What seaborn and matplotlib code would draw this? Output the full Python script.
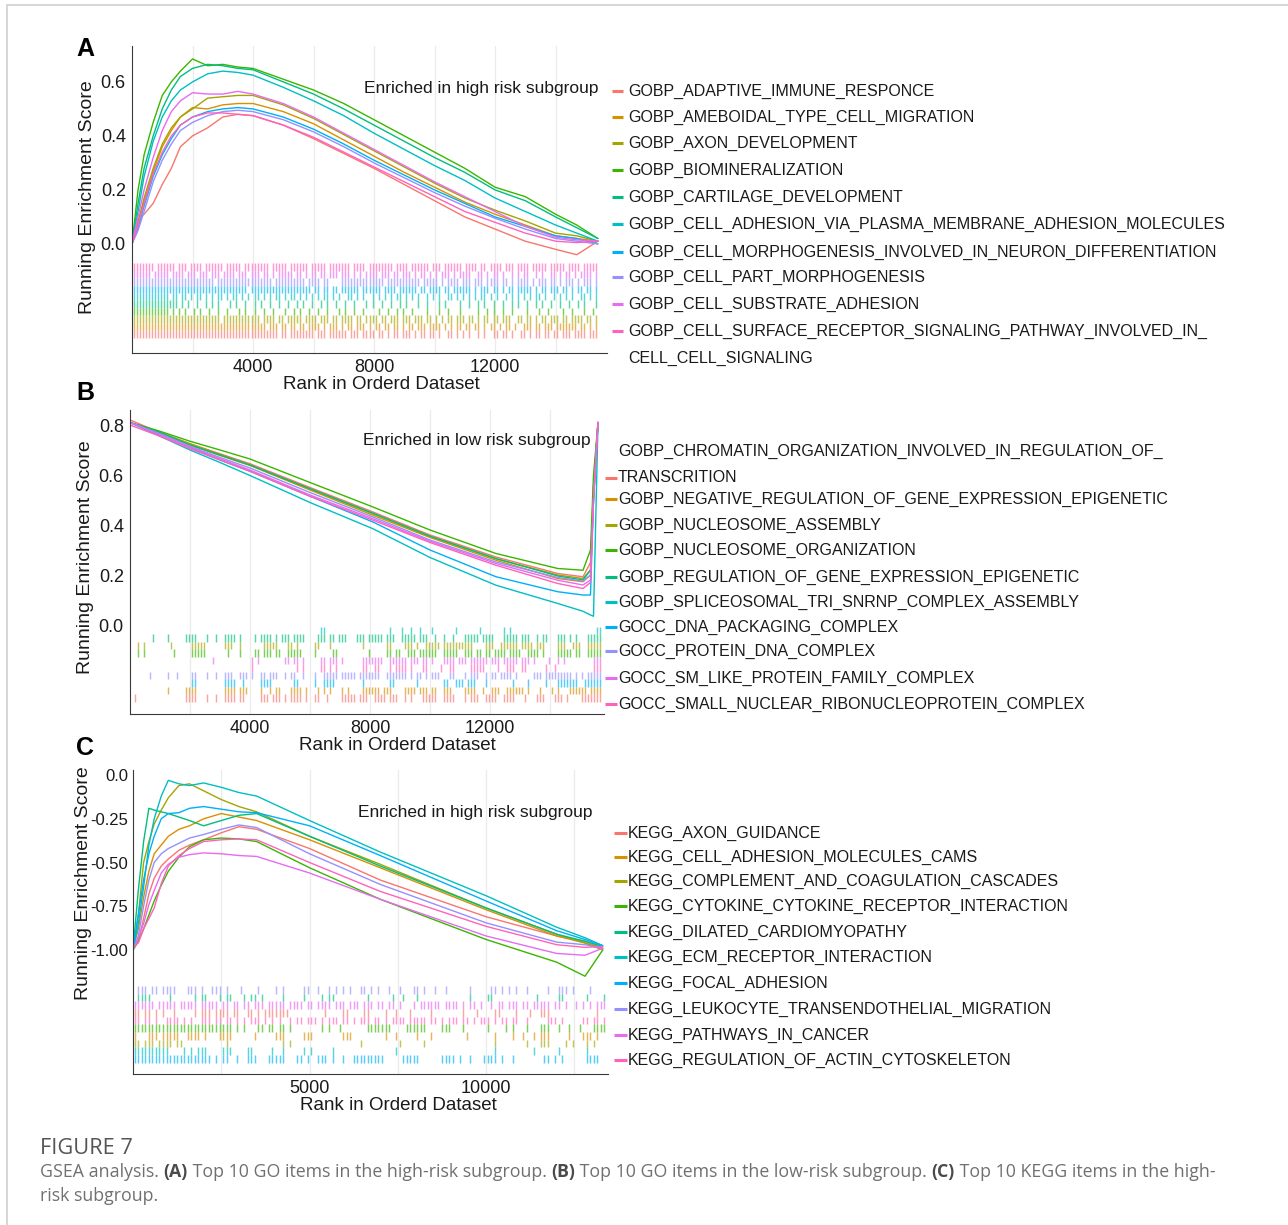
import numpy as np
import pandas as pd
import matplotlib
matplotlib.use("Agg")
import matplotlib.pyplot as plt
from matplotlib.lines import Line2D
from matplotlib.patches import Rectangle
import seaborn as sns

# ---------------- data ----------------
hue_colors = ['#F8766D', '#D89000', '#A3A500', '#39B600', '#00BF7D',
              '#00BFC4', '#00B0F6', '#9590FF', '#E76BF3', '#FF62BC']

a_sets = ["GOBP_ADAPTIVE_IMMUNE_RESPONCE", "GOBP_AMEBOIDAL_TYPE_CELL_MIGRATION",
          "GOBP_AXON_DEVELOPMENT", "GOBP_BIOMINERALIZATION", "GOBP_CARTILAGE_DEVELOPMENT",
          "GOBP_CELL_ADHESION_VIA_PLASMA_MEMBRANE_ADHESION_MOLECULES",
          "GOBP_CELL_MORPHOGENESIS_INVOLVED_IN_NEURON_DIFFERENTIATION",
          "GOBP_CELL_PART_MORPHOGENESIS", "GOBP_CELL_SUBSTRATE_ADHESION",
          "GOBP_CELL_SURFACE_RECEPTOR_SIGNALING_PATHWAY_INVOLVED_IN_\nCELL_CELL_SIGNALING"]
a_rank = [0, 200, 400, 700, 1000, 1300, 1600, 2000, 2500, 3000, 3500, 4000, 5000, 6000,
          7000, 8000, 9000, 10000, 11000, 12000, 13000, 14000, 14700, 15400]
a_es = [
    [0, 0.09, 0.11, 0.15, 0.22, 0.28, 0.36, 0.40, 0.43, 0.47, 0.48, 0.475, 0.44, 0.39, 0.335, 0.28, 0.22, 0.16, 0.10, 0.055, 0.01, -0.02, -0.04, 0.01],
    [0, 0.08, 0.16, 0.27, 0.36, 0.42, 0.47, 0.505, 0.50, 0.515, 0.52, 0.52, 0.49, 0.445, 0.385, 0.325, 0.265, 0.21, 0.155, 0.11, 0.07, 0.03, 0.02, 0.01],
    [0, 0.08, 0.17, 0.28, 0.37, 0.43, 0.47, 0.50, 0.54, 0.545, 0.55, 0.55, 0.515, 0.465, 0.405, 0.345, 0.285, 0.225, 0.17, 0.125, 0.085, 0.04, 0.03, 0.01],
    [0, 0.20, 0.33, 0.45, 0.55, 0.60, 0.64, 0.685, 0.66, 0.665, 0.655, 0.65, 0.61, 0.57, 0.52, 0.46, 0.40, 0.34, 0.28, 0.21, 0.175, 0.11, 0.07, 0.02],
    [0, 0.15, 0.28, 0.40, 0.50, 0.57, 0.62, 0.65, 0.665, 0.66, 0.65, 0.645, 0.60, 0.555, 0.50, 0.44, 0.38, 0.32, 0.265, 0.20, 0.16, 0.10, 0.06, 0.02],
    [0, 0.12, 0.25, 0.38, 0.47, 0.53, 0.57, 0.60, 0.63, 0.64, 0.635, 0.625, 0.58, 0.53, 0.475, 0.41, 0.35, 0.29, 0.235, 0.17, 0.12, 0.07, 0.04, 0.01],
    [0, 0.06, 0.14, 0.25, 0.33, 0.39, 0.44, 0.47, 0.49, 0.50, 0.505, 0.50, 0.47, 0.425, 0.37, 0.31, 0.255, 0.20, 0.15, 0.10, 0.065, 0.03, 0.02, 0.0],
    [0, 0.05, 0.12, 0.23, 0.31, 0.37, 0.42, 0.45, 0.475, 0.49, 0.495, 0.49, 0.46, 0.415, 0.36, 0.30, 0.245, 0.19, 0.14, 0.095, 0.055, 0.02, 0.01, 0.0],
    [0, 0.10, 0.20, 0.32, 0.42, 0.49, 0.53, 0.56, 0.555, 0.555, 0.565, 0.555, 0.52, 0.47, 0.41, 0.35, 0.29, 0.23, 0.175, 0.12, 0.065, 0.025, 0.015, 0.01],
    [0, 0.07, 0.15, 0.26, 0.34, 0.40, 0.44, 0.47, 0.485, 0.485, 0.48, 0.475, 0.44, 0.395, 0.34, 0.285, 0.23, 0.175, 0.12, 0.08, 0.04, 0.01, 0.005, 0.01],
]
# hit strings: one character per 100 ranks, '1' = gene of the set at that rank
a_hits = [
    "1111111111 1111111111 1111111111 1111111111 1111111101 1011111111 0111011111 1011101111 0110101101 1101011011 0100110101 0100101001 1011010011 0101101101 1011101111 0111",
    "1111111111 1111111111 1111111111 1111111111 1111011101 1011011011 1101011101 0110111010 1101101101 0110111011 1101010110 1101101011 0101101001 1101101110 1111111011 0101",
    "1111111111 1111111111 1111111110 1111111111 1101111011 0111110111 1011101101 1110110111 1011011101 1101110110 1010110111 0110101101 1011100110 1101011011 1011011110 1101",
    "1111111111 1101010100 1010010010 0100010100 1001001000 1001010010 0100100010 1001001000 0100100101 0010000100 0100100010 0000100101 0010010000 1000100100 0010010001 0010",
    "1111111111 1111101010 0100101010 0010100100 1010010010 0100101001 0010100100 1001000101 0010010010 1000100100 0101000010 0100101001 0010010100 1001010010 0100100101 0001",
    "1111111111 1101101101 0110101011 0101101010 1101010110 1011010101 0101101010 0110101001 0101010110 1010100101 0100110101 0101011010 1001010101 0101101001 0101010011 0101",
    "1111111111 1111111111 1111111111 1111111101 1111111111 1111111110 1101101101 1111101111 1101111011 1111011011 1101101111 1101011101 1010110111 1101011011 1011010110 1101",
    "1111111111 1111111111 1111111011 1111111111 1111110111 1111111011 1101100001 1111111111 1110111111 1111101111 1010111101 1101110111 1011010111 1010111011 0101110101 1101",
    "1111110111 1101111011 1011101110 1111011101 1101101011 1110110101 1011011101 1101010111 1011101101 1101011010 1011101011 1100110101 1010010101 1001010011 0101101011 1101",
    "1111111011 1111011101 1110111111 0111110111 1111101111 1011111101 1111011111 1101111011 1111110111 1011111101 1101111110 1111011011 1101110111 1011111011 1110111101 1111",
]
a_rug_order = [9, 8, 7, 6, 5, 4, 3, 2, 1, 0]

b_sets = ["GOBP_CHROMATIN_ORGANIZATION_INVOLVED_IN_REGULATION_OF_\nTRANSCRITION",
          "GOBP_NEGATIVE_REGULATION_OF_GENE_EXPRESSION_EPIGENETIC",
          "GOBP_NUCLEOSOME_ASSEMBLY", "GOBP_NUCLEOSOME_ORGANIZATION",
          "GOBP_REGULATION_OF_GENE_EXPRESSION_EPIGENETIC",
          "GOBP_SPLICEOSOMAL_TRI_SNRNP_COMPLEX_ASSEMBLY",
          "GOCC_DNA_PACKAGING_COMPLEX", "GOCC_PROTEIN_DNA_COMPLEX",
          "GOCC_SM_LIKE_PROTEIN_FAMILY_COMPLEX",
          "GOCC_SMALL_NUCLEAR_RIBONUCLEOPROTEIN_COMPLEX"]
b_rank = [0, 1000, 2000, 3000, 4000, 6000, 8100, 10000, 12200, 14260, 15100, 15350, 15450, 15600]
b_es = [
    [0.82, 0.77, 0.725, 0.685, 0.645, 0.55, 0.452, 0.36, 0.272, 0.206, 0.193, 0.25, 0.55, 0.81],
    [0.81, 0.765, 0.72, 0.678, 0.638, 0.54, 0.439, 0.35, 0.259, 0.186, 0.173, 0.20, 0.55, 0.81],
    [0.81, 0.77, 0.725, 0.682, 0.640, 0.545, 0.445, 0.355, 0.265, 0.20, 0.186, 0.22, 0.55, 0.81],
    [0.81, 0.775, 0.735, 0.70, 0.664, 0.57, 0.472, 0.38, 0.286, 0.226, 0.219, 0.30, 0.60, 0.81],
    [0.81, 0.77, 0.72, 0.68, 0.640, 0.545, 0.447, 0.355, 0.266, 0.196, 0.18, 0.22, 0.50, 0.81],
    [0.81, 0.755, 0.70, 0.65, 0.598, 0.49, 0.385, 0.27, 0.159, 0.086, 0.055, 0.04, 0.035, 0.81],
    [0.81, 0.76, 0.71, 0.66, 0.615, 0.515, 0.412, 0.30, 0.193, 0.133, 0.12, 0.12, 0.50, 0.81],
    [0.81, 0.765, 0.715, 0.67, 0.628, 0.53, 0.432, 0.34, 0.252, 0.19, 0.176, 0.20, 0.50, 0.81],
    [0.81, 0.76, 0.712, 0.665, 0.62, 0.52, 0.425, 0.335, 0.246, 0.179, 0.16, 0.18, 0.50, 0.81],
    [0.80, 0.755, 0.705, 0.66, 0.615, 0.515, 0.419, 0.33, 0.239, 0.166, 0.146, 0.17, 0.50, 0.81],
]
b_hits = [
    "0100000000 0000000011 1100010010 0111101100 0001110111 0101111010 0110010000 1111101110 0111101110 0101000111 1100111100 0101110011 1100111100 0100011100 0111010000 1111111",
    "0000000000 0010000011 1100000000 0111101110 0001001011 0001111010 0010101000 1010000111 1110111000 0111101110 1100111000 0111100100 1110011111 1010001000 1010001111 1101111",
    "0010100000 0001000000 1111100000 0111001000 0000111110 0011010000 0110001000 0000000100 0000011000 0111010011 1110111111 1111000011 1001111110 1111011100 0011100111 0011111",
    "0010100000 0000100000 1111100000 0010001000 0110111011 0011111000 0100000110 0000000001 0000011011 0011101111 1100111110 0111011011 0111101111 0011110100 0011111011 0011111",
    "0000000100 0010000011 1100010010 0111101000 0101111010 1110111100 0011101101 1100011101 1111011100 1111101110 0100100100 0111110111 1000111110 1110010110 0011101010 0011111",
    "0000000000 0000000000 0000000000 0000000000 0000000000 0000000000 0001100000 0000000000 0000001000 1001001000 1000000010 0000001000 0000101000 0000000000 0000000000 0000011",
    "0000000000 0000000000 1100000000 0111100100 0001111000 0000110000 0100111100 0000000100 0000001100 0000010000 0000110011 1011100010 0000000100 0010000010 0011111110 0111111",
    "0000001000 0010010000 1100010010 0111001110 1001101110 0101100100 0100111110 1111101111 1110011111 1101011010 1110001100 0101110010 1101111010 0000111011 1111111010 1011111",
    "0000000000 0000000000 0000000100 0000000000 1010000000 0110110100 0001101110 1000000111 1111001111 1101110110 1000111101 1101111110 1110111110 1110100001 0010100000 0000111",
    "0000000000 0000000000 0000000000 0000000000 1000000000 0000010100 0001101010 0000000110 0110001011 1101000110 0001001100 0001111100 0010011100 1100000010 0100000000 0000111",
]
b_rug_order = [5, 4, 2, 3, 8, 9, 7, 6, 1, 0]

c_sets = ["KEGG_AXON_GUIDANCE", "KEGG_CELL_ADHESION_MOLECULES_CAMS",
          "KEGG_COMPLEMENT_AND_COAGULATION_CASCADES",
          "KEGG_CYTOKINE_CYTOKINE_RECEPTOR_INTERACTION", "KEGG_DILATED_CARDIOMYOPATHY",
          "KEGG_ECM_RECEPTOR_INTERACTION", "KEGG_FOCAL_ADHESION",
          "KEGG_LEUKOCYTE_TRANSENDOTHELIAL_MIGRATION", "KEGG_PATHWAYS_IN_CANCER",
          "KEGG_REGULATION_OF_ACTIN_CYTOSKELETON"]
c_rank = [0, 150, 300, 450, 600, 800, 1000, 1300, 1600, 2000, 2500, 3000, 3500, 5000,
          7000, 10000, 12000, 12800, 13300]
c_es = [
    [-1.0, -0.95, -0.82, -0.68, -0.59, -0.52, -0.48, -0.43, -0.40, -0.37, -0.33, -0.295, -0.31, -0.42, -0.60, -0.81, -0.92, -0.95, -0.99],
    [-1.0, -0.88, -0.70, -0.55, -0.45, -0.40, -0.35, -0.31, -0.29, -0.25, -0.22, -0.24, -0.26, -0.37, -0.53, -0.77, -0.92, -0.96, -0.99],
    [-1.0, -0.80, -0.50, -0.38, -0.28, -0.20, -0.13, -0.06, -0.05, -0.09, -0.14, -0.18, -0.21, -0.35, -0.51, -0.76, -0.91, -0.96, -1.0],
    [-1.0, -0.95, -0.88, -0.80, -0.72, -0.63, -0.55, -0.47, -0.41, -0.37, -0.36, -0.365, -0.38, -0.53, -0.71, -0.94, -1.07, -1.15, -1.0],
    [-1.0, -0.66, -0.38, -0.19, -0.20, -0.21, -0.22, -0.24, -0.26, -0.29, -0.26, -0.23, -0.22, -0.35, -0.52, -0.76, -0.91, -0.95, -0.98],
    [-1.0, -0.85, -0.64, -0.40, -0.25, -0.12, -0.03, -0.05, -0.06, -0.045, -0.07, -0.10, -0.12, -0.26, -0.44, -0.69, -0.87, -0.93, -0.975],
    [-1.0, -0.80, -0.60, -0.45, -0.35, -0.25, -0.22, -0.215, -0.19, -0.18, -0.195, -0.21, -0.215, -0.29, -0.46, -0.72, -0.89, -0.94, -0.975],
    [-1.0, -0.92, -0.75, -0.60, -0.50, -0.45, -0.42, -0.39, -0.36, -0.34, -0.31, -0.285, -0.30, -0.45, -0.625, -0.845, -0.955, -0.97, -0.99],
    [-1.0, -0.93, -0.85, -0.74, -0.66, -0.56, -0.51, -0.47, -0.455, -0.445, -0.45, -0.46, -0.465, -0.56, -0.71, -0.92, -1.02, -1.03, -0.99],
    [-0.98, -0.96, -0.88, -0.82, -0.76, -0.62, -0.52, -0.46, -0.42, -0.38, -0.37, -0.365, -0.37, -0.50, -0.665, -0.865, -0.97, -0.985, -0.98],
]
c_hits = [
    "1101101010 0100000101 1101111011 0011010111 1111000000 0000100001 1000011000 0100100010 0000100000 0001000100 0011000010 0010011100 0000000000 0100",
    "1000111011 1110011110 1000111100 0000100000 1110000011 1000000001 1100000000 0100100000 1000100000 0000100000 0010000100 1001011100 0001000111 0100",
    "1101110111 1011000000 0000001000 0000000000 0010100000 0000000000 0000100000 0000010000 0010000000 0000000000 0010000000 0100011100 0010100010 1000",
    "1111111111 1111111111 1111111101 0100011011 0110100000 0001010010 0000001111 1110000111 1110000111 0001000000 1000010100 0100011100 1001001000 1111",
    "0111100000 1000000101 1000101100 0101101000 0010000010 0001011000 0000001000 0001001000 1000000000 0000010000 1100000000 0000100000 1100000010 0001",
    "1111111111 0000101011 1000011100 0011000001 0010000010 1000001000 0000000000 0000100000 0000000000 0000000000 0010000000 0001000000 1000000010 0000",
    "1111111111 1111111111 1101011001 0011100011 1110001101 0011101001 0011111111 1000001111 1000000111 1010010001 1110100100 0000001101 0100000011 1100",
    "0111011011 1100011101 0011101000 1000010000 1010000011 0010010101 0100110101 0010010001 1010010010 0000010000 0110101010 0100000100 1110100001 0000",
    "1111110111 1101111101 1111011011 0110111011 1110111101 1011110111 0111011101 1011010001 0111111011 1101011010 0101101110 1101111101 1010010101 0111",
    "1101101001 1110101001 1101101101 0101110101 0100101101 1101011101 1010111011 0101111011 1110110101 1101101011 1010110110 0100000111 0100000110 1101",
]
c_rug_order = [7, 4, 8, 0, 9, 3, 1, 2, 5, 6]

caption_title = "FIGURE 7"
caption_line1 = [("GSEA analysis. ", "normal"), ("(A)", "bold"),
                 (" Top 10 GO items in the high-risk subgroup. ", "normal"), ("(B)", "bold"),
                 (" Top 10 GO items in the low-risk subgroup. ", "normal"), ("(C)", "bold"),
                 (" Top 10 KEGG items in the high-", "normal")]
caption_line2 = [("risk subgroup.", "normal")]

# ---------------- style ----------------
sns.set_theme(style="white")
plt.rcParams['font.family'] = ['Liberation Sans', 'DejaVu Sans']

W, H = 1288, 1225
fig = plt.figure(figsize=(W / 100, H / 100), dpi=100)
fig.patch.set_facecolor('white')
INK = '#1a1a1a'


def px_axes(left, top, right, bottom):
    return fig.add_axes([left / W, 1 - bottom / H, (right - left) / W, (bottom - top) / H])


def ftext(x, y, s, **kw):
    return fig.text(x / W, 1 - y / H, s, **kw)


def draw_panel(ax, sets, ranks, es, hits, rug_order, rug_top, rug_bottom,
               xmax, ylim, xticks, grid_step, yticks, yticklabels, ysize=13, ypad=1.5):
    keys = [s.replace('\n', '') for s in sets]
    df = pd.DataFrame({
        'rank': np.tile(ranks, len(sets)),
        'es': np.concatenate([np.asarray(v, float) for v in es]),
        'set': np.repeat(keys, len(ranks)),
    })
    sns.lineplot(data=df, x='rank', y='es', hue='set', hue_order=keys,
                 palette=hue_colors, estimator=None, sort=False, legend=False,
                 lw=1.0, ax=ax)
    h = (rug_top - rug_bottom) / len(sets)
    for row, idx in enumerate(rug_order):
        s = ''.join(hits[idx].split())
        pos = [(k + 0.5) * 100 for k, c in enumerate(s) if c == '1']
        y0 = rug_top - row * h
        ax.vlines(pos, y0 - h, y0, colors=hue_colors[idx], lw=1.05, alpha=0.65)
    ax.set_xlim(0, xmax)
    ax.set_ylim(*ylim)
    ax.set_xticks(xticks)
    ax.set_xticklabels([str(t) for t in xticks])
    ax.set_xticks(np.arange(grid_step, xmax, grid_step), minor=True)
    ax.set_yticks(yticks)
    ax.set_yticklabels(yticklabels)
    ax.grid(axis='x', which='both', color='#ebebeb', lw=0.9)
    ax.grid(axis='y', visible=False)
    ax.set_axisbelow(True)
    for side in ['top', 'right']:
        ax.spines[side].set_visible(False)
    for side in ['left', 'bottom']:
        ax.spines[side].set_color('#3a3a3a')
        ax.spines[side].set_linewidth(0.8)
    ax.tick_params(which='major', length=3, width=0.8, color='#3a3a3a',
                   labelsize=13, labelcolor=INK, pad=1.5)
    ax.tick_params(axis='y', labelsize=ysize, pad=ypad)
    ax.tick_params(which='minor', length=0)
    ax.set_facecolor('white')


def draw_labels(ax, xlab_pos, ylab_x, ylab_y):
    ax.set_xlabel("Rank in Orderd Dataset", fontsize=13.5, color=INK)
    ax.set_ylabel("Running Enrichment Score", fontsize=14, color=INK)
    ax.xaxis.label.set_va('center')
    ax.yaxis.label.set_va('center')
    ax.xaxis.set_label_coords(*ax.transAxes.inverted().transform(
        fig.transFigure.transform((xlab_pos[0] / W, 1 - xlab_pos[1] / H))))
    ax.yaxis.set_label_coords(*ax.transAxes.inverted().transform(
        fig.transFigure.transform((ylab_x / W, 1 - ylab_y / H))))


def draw_legend(labels, key_x0, key_x1, text_x, ys, key_line, step=27):
    for i, (lab, y) in enumerate(zip(labels, ys)):
        lines = lab.split('\n')
        for j, ln in enumerate(lines):
            ftext(text_x, y + j * step, ln, fontsize=11.5, color=INK, ha='left', va='center')
        ky = y + min(key_line, len(lines) - 1) * step
        fig.add_artist(Line2D([key_x0 / W, key_x1 / W], [1 - ky / H, 1 - ky / H],
                              transform=fig.transFigure, color=hue_colors[i], lw=2.2,
                              solid_capstyle='butt'))


# ---------------- panel A ----------------
ax_a = px_axes(132, 46, 607, 353)
draw_panel(ax_a, a_sets, a_rank, a_es, a_hits, a_rug_order, -0.071, -0.348,
           15700, (-0.404, 0.733), [4000, 8000, 12000], 2000,
           [0.0, 0.2, 0.4, 0.6], ["0.0", "0.2", "0.4", "0.6"])
draw_labels(ax_a, (381, 385), 87, 197)
ftext(598, 88, "Enriched in high risk subgroup", fontsize=12.5, color=INK, ha='right', va='center')
ftext(85, 49, "A", fontsize=18, fontweight='bold', color='black', ha='center', va='center')
draw_legend(a_sets, 612, 623, 628, [91, 117, 143, 170, 197, 224, 252, 277, 304, 331], 0)

# ---------------- panel B ----------------
ax_b = px_axes(130, 410, 604, 714)
draw_panel(ax_b, b_sets, b_rank, b_es, b_hits, b_rug_order, -0.007, -0.307,
           15800, (-0.356, 0.86), [4000, 8000, 12000], 2000,
           [0.0, 0.2, 0.4, 0.6, 0.8], ["0.0", "0.2", "0.4", "0.6", "0.8"])
draw_labels(ax_b, (397, 745), 86, 557)
ftext(591, 440, "Enriched in low risk subgroup", fontsize=12.5, color=INK, ha='right', va='center')
ftext(85, 393, "B", fontsize=18, fontweight='bold', color='black', ha='center', va='center')
draw_legend(b_sets, 605, 617, 618, [451, 499, 525, 550, 577, 602, 627, 651, 678, 704], 1)

# ---------------- panel C ----------------
ax_c = px_axes(133, 770, 608, 1074)
draw_panel(ax_c, c_sets, c_rank, c_es, c_hits, c_rug_order, -1.206, -1.644,
           13450, (-1.709, 0.029), [5000, 10000], 2500,
           [0.0, -0.25, -0.5, -0.75, -1.0], ["0.0", "-0.25", "-0.50", "-0.75", "-1.00"],
           ysize=12, ypad=0.3)
draw_labels(ax_c, (398, 1105), 83, 883)
ftext(592, 812, "Enriched in high risk subgroup", fontsize=12.5, color=INK, ha='right', va='center')
ftext(85, 748, "C", fontsize=18, fontweight='bold', color='black', ha='center', va='center')
draw_legend(c_sets, 614, 627, 628, [833, 857, 881, 906, 932, 957, 983, 1009, 1035, 1060], 0)

# ---------------- frame and caption ----------------
fig.add_artist(Rectangle((7 / W, -0.05), 1.2, 1 - 5 / H + 0.05, transform=fig.transFigure,
                         fill=False, edgecolor='#d0d0d0', lw=1.2))

renderer = fig.canvas.get_renderer()
CAP_FONT = ['Open Sans', 'DejaVu Sans']


def text_width(s, size, weight):
    t = ftext(0, 0, s + '|', fontsize=size, fontweight=weight, family=CAP_FONT)
    u = ftext(0, 0, '|', fontsize=size, fontweight=weight, family=CAP_FONT)
    w = t.get_window_extent(renderer).width - u.get_window_extent(renderer).width
    t.remove()
    u.remove()
    return w


def draw_pieces(pieces, x, y, size):
    for s, weight in pieces:
        color = '#4a4a4a' if weight == 'bold' else '#707070'
        ftext(x, y, s, fontsize=size, fontweight=weight, color=color, ha='left', va='center',
              family=CAP_FONT)
        x += text_width(s, size, weight)


base = sum(text_width(s, 10, w) for s, w in caption_line1)
cap_size = 10 * 1178 / base
title_size = 10 * 93 / text_width(caption_title, 10, 'normal')
ftext(40, 1148, caption_title, fontsize=title_size, color='#555555', ha='left', va='center',
      family=CAP_FONT)
draw_pieces(caption_line1, 40, 1172, cap_size)
draw_pieces(caption_line2, 40, 1196, cap_size)

fig.savefig("out.png", dpi=100, facecolor='white')
